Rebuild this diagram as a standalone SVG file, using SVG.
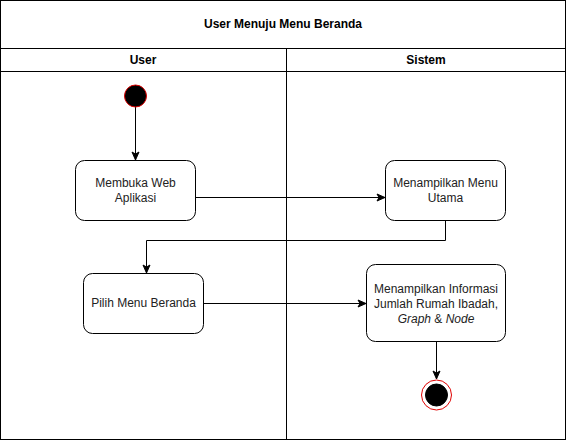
<svg xmlns="http://www.w3.org/2000/svg" width="566" height="441" viewBox="0 0 566 441">
<defs>
<marker id="ah" markerWidth="10" markerHeight="10" refX="9" refY="5" orient="auto" markerUnits="userSpaceOnUse">
<path d="M1,1.5 L9,5 L1,8.5 L3,5 Z" fill="#000" stroke="#000" stroke-width="1"/>
</marker>
<style>
text{font-family:"Liberation Sans",Arial,sans-serif;font-size:12px;fill:#222;text-anchor:middle}
.b{font-weight:bold;fill:#000}
.box{fill:#fff;stroke:#000;stroke-width:1}
.ln{fill:none;stroke:#000;stroke-width:1}
.c{stroke:#000;stroke-width:1;fill:none}
</style>
</defs>
<rect x="0" y="0" width="566" height="441" fill="#fff"/>
<g id="pool">
<rect x="0.5" y="0.5" width="565" height="439" class="ln"/>
<line x1="0.5" y1="48.5" x2="565.5" y2="48.5" class="ln"/>
<line x1="0.5" y1="71.5" x2="565.5" y2="71.5" class="ln"/>
<line x1="286.5" y1="48.5" x2="286.5" y2="439.5" class="ln"/>
<text x="283" y="28" class="b">User Menuju Menu Beranda</text>
<text x="143" y="64" class="b">User</text>
<text x="426" y="64" class="b">Sistem</text>
</g>
<g id="connectors">
<path d="M135.5,107 V160" class="c" marker-end="url(#ah)"/>
<path d="M196,197.5 H385" class="c" marker-end="url(#ah)"/>
<path d="M445.5,221 V240.5 H146.5 V273" class="c" marker-end="url(#ah)"/>
<path d="M203,303.5 H366" class="c" marker-end="url(#ah)"/>
<path d="M436.5,342 V379" class="c" marker-end="url(#ah)"/>
</g>
<g id="start">
<circle cx="135.5" cy="96" r="11" fill="#000" stroke="#e00000" stroke-width="1"/>
</g>
<g id="n1">
<rect x="75.5" y="160.5" width="120" height="60" rx="9" class="box"/>
<text x="135.5" y="187">Membuka Web</text>
<text x="135.5" y="202">Aplikasi</text>
</g>
<g id="n2">
<rect x="385.5" y="160.5" width="120" height="60" rx="9" class="box"/>
<text x="445.5" y="187">Menampilkan Menu</text>
<text x="445.5" y="202">Utama</text>
</g>
<g id="n3">
<rect x="83.5" y="273.5" width="120" height="60" rx="9" class="box"/>
<text x="143.5" y="307">Pilih Menu Beranda</text>
</g>
<g id="n4">
<rect x="366.5" y="264.5" width="139" height="77" rx="9" class="box"/>
<text x="436" y="293">Menampilkan Informasi</text>
<text x="436" y="308">Jumlah Rumah Ibadah,</text>
<text x="436" y="323"><tspan font-style="italic">Graph</tspan> &amp; <tspan font-style="italic">Node</tspan></text>
</g>
<g id="end">
<circle cx="436.5" cy="395" r="15" fill="#fff" stroke="#e00000" stroke-width="1"/>
<circle cx="436.5" cy="395" r="11" fill="#000" stroke="#000" stroke-width="1"/>
</g>
</svg>
